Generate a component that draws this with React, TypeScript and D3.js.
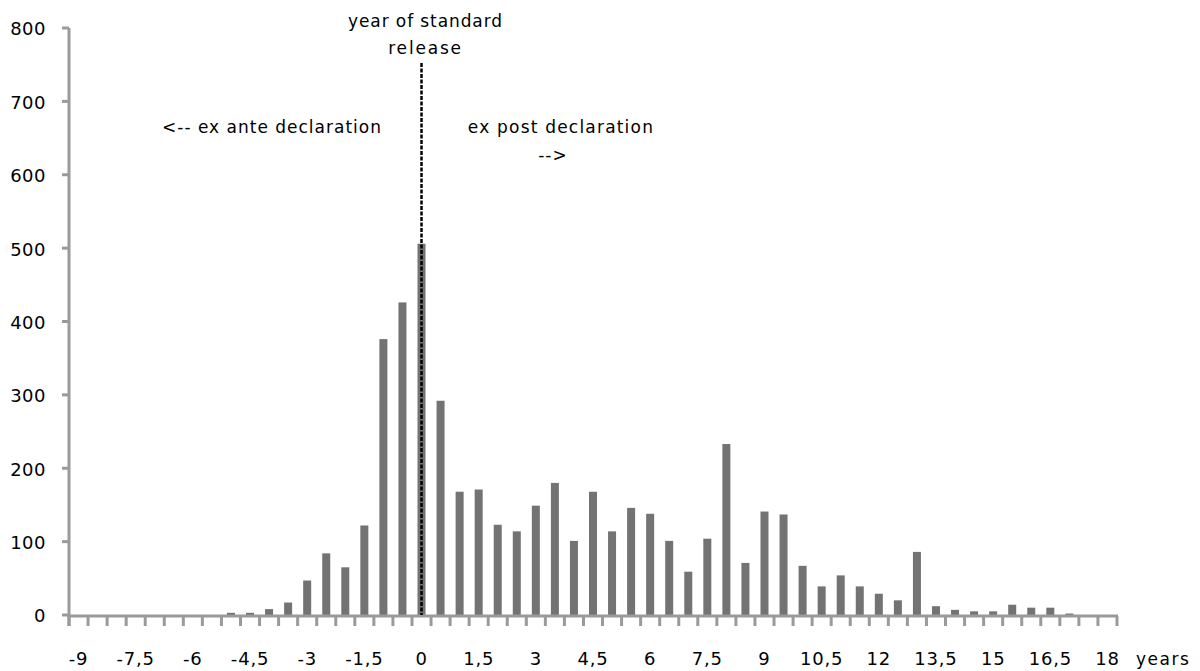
import React from "react";
import * as d3 from "d3";

const categories: number[] = [
  -9, -8.5, -8, -7.5, -7, -6.5, -6, -5.5, -5, -4.5, -4, -3.5, -3, -2.5, -2, -1.5, -1, -0.5,
  0, 0.5, 1, 1.5, 2, 2.5, 3, 3.5, 4, 4.5, 5, 5.5, 6, 6.5, 7, 7.5, 8, 8.5, 9, 9.5, 10, 10.5,
  11, 11.5, 12, 12.5, 13, 13.5, 14, 14.5, 15, 15.5, 16, 16.5, 17, 17.5, 18,
];

const declarations: number[] = [
  0, 0, 0, 0, 0, 0, 0, 0, 3, 3, 8, 17, 47, 84, 65, 122, 376, 426,
  506, 292, 168, 171, 123, 114, 149, 180, 101, 168, 114, 146, 138, 101, 59, 104, 233, 71, 141, 137, 67, 39,
  54, 39, 29, 20, 86, 12, 7, 5, 5, 14, 10, 10, 2, 0, 0,
];

const xTickValues: number[] = [-9, -7.5, -6, -4.5, -3, -1.5, 0, 1.5, 3, 4.5, 6, 7.5, 9, 10.5, 12, 13.5, 15, 16.5, 18];
const yTickValues: number[] = [0, 100, 200, 300, 400, 500, 600, 700, 800];

const W = 1200;
const H = 671;
const FONT = "'DejaVu Sans', Verdana, sans-serif";

export default function App() {
  const x = d3
    .scaleBand<number>()
    .domain(categories)
    .range([69, 1117])
    .paddingInner(0.58)
    .paddingOuter(0.29);
  const y = d3.scaleLinear().domain([0, 800]).range([615, 28]);
  const step = x.step();
  const x0 = 69;
  const fmt = (v: number) => String(v).replace(".", ",");
  const cx = (v: number) => (x(v) as number) + x.bandwidth() / 2;
  const boundaries = d3.range(categories.length + 1).map((i) => x0 + i * step);

  return (
    <div style={{ position: "absolute", left: 0, top: 0 }}>
      <svg width={W} height={H} style={{ display: "block", background: "#fff" }}>
        {categories.map((c, i) =>
          declarations[i] > 0 ? (
            <rect
              key={c}
              x={x(c)}
              y={y(declarations[i])}
              width={x.bandwidth()}
              height={y(0) - y(declarations[i])}
              fill="#737373"
            />
          ) : null
        )}
        <line x1={x0} x2={x0} y1={y(800)} y2={626} stroke="#9a9a9a" strokeWidth={3} />
        <line x1={x0 - 1.5} x2={1118} y1={616} y2={616} stroke="#9a9a9a" strokeWidth={3} />
        {yTickValues.map((t) => (
          <line key={t} x1={62} x2={x0} y1={y(t)} y2={y(t)} stroke="#9a9a9a" strokeWidth={3} />
        ))}
        {boundaries.map((b, i) => (
          <line key={i} x1={b} x2={b} y1={616} y2={626} stroke="#9a9a9a" strokeWidth={3} />
        ))}
        {yTickValues.map((t) => (
          <text
            key={t}
            x={46}
            y={y(t) + 1}
            dy="0.36em"
            textAnchor="end"
            fontFamily={FONT}
            fontSize={18}
            letterSpacing={0.5}
            fill="#000"
          >
            {t}
          </text>
        ))}
        {xTickValues.map((t) => (
          <text
            key={t}
            x={cx(t)}
            y={665}
            textAnchor="middle"
            fontFamily={FONT}
            fontSize={18}
            letterSpacing={0.8}
            fill="#000"
          >
            {fmt(t)}
          </text>
        ))}
        <text x={1136} y={665} fontFamily={FONT} fontSize={17} letterSpacing={1.5} fill="#000">
          years
        </text>
        <line
          x1={cx(0)}
          x2={cx(0)}
          y1={63}
          y2={615}
          stroke="#000"
          strokeWidth={2.5}
          strokeDasharray="4,1.5"
        />
        <text x={cx(0) + 4} y={27} textAnchor="middle" fontFamily={FONT} fontSize={17} letterSpacing={0.9} fill="#000">
          year of standard
        </text>
        <text x={cx(0) + 4} y={54} textAnchor="middle" fontFamily={FONT} fontSize={17} letterSpacing={1.8} fill="#000">
          release
        </text>
        <text x={272} y={133} textAnchor="middle" fontFamily={FONT} fontSize={17} letterSpacing={1} fill="#000">
          {"<-- ex ante declaration"}
        </text>
        <text x={561} y={133} textAnchor="middle" fontFamily={FONT} fontSize={17} letterSpacing={1.2} fill="#000">
          ex post declaration
        </text>
        <text x={553} y={161} textAnchor="middle" fontFamily={FONT} fontSize={17} letterSpacing={1} fill="#000">
          {"-->"}
        </text>
      </svg>
    </div>
  );
}
